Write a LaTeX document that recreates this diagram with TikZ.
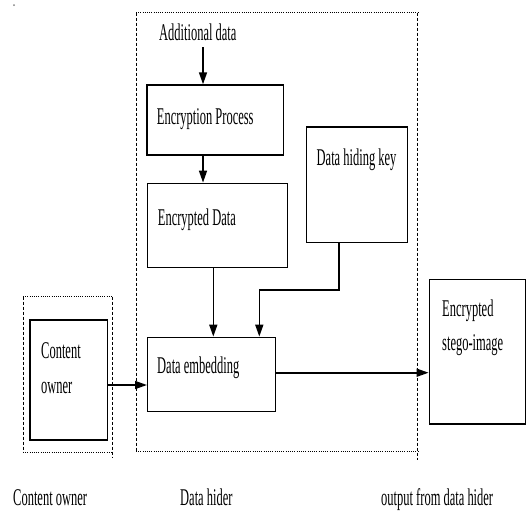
\documentclass[tikz,border=0pt]{standalone}
\usepackage{fontspec}
\setmainfont{Liberation Serif}[FakeStretch=0.52]
\usetikzlibrary{arrows.meta}
\tikzset{
  box/.style={draw, line width=1.4pt, inner sep=0pt, minimum width=#1},
  txt/.style={anchor=base west, inner sep=0pt, font=\fontsize{24}{34}\selectfont},
  arr/.style={line width=1.6pt, -{Triangle[length=12pt,width=8pt]}},
  hdash/.style={line width=1pt, dash pattern=on 1pt off 1.2pt},
  vdash/.style={line width=1pt, dash pattern=on 3pt off 2pt}
}
\begin{document}
\begin{tikzpicture}[x=1pt,y=-1pt]
\useasboundingbox (0,0) rectangle (526,512);
\fill[gray] (14,5) circle (1pt);
% dashed group frames
\draw[hdash] (136,12.7) -- (417.7,12.7);
\draw[hdash] (136,451.7) -- (417.7,451.7);
\draw[vdash] (136,12.7) -- (136,451.7);
\draw[vdash] (417.7,12.7) -- (417.7,460);
\draw[hdash] (23,296.7) -- (112.7,296.7);
\draw[hdash] (23,452.7) -- (112.7,452.7);
\draw[vdash] (23,296.7) -- (23,452.7);
\draw[vdash] (112.7,296.7) -- (112.7,458);
% boxes
\node[box=136.3pt, minimum height=70pt] (enc) at (215.2,120) {};
\node[box=140pt, minimum height=84pt] (encd) at (217.7,225.3) {};
\node[box=100.6pt, minimum height=115.3pt] (key) at (357,184.7) {};
\node[box=127.6pt, minimum height=74.4pt] (emb) at (211.5,374.5) {};
\node[box=77.3pt, minimum height=120pt] (owner) at (68.7,380) {};
\node[box=96pt, minimum height=144.7pt] (stego) at (477.3,351.7) {};
% texts
\node[txt] (addl) at (159,40.7) {Additional data};
\node[txt] (tenc) at (156.7,124) {Encryption Process};
\node[txt] (tencd) at (157.7,225) {Encrypted Data};
\node[txt] (tkey) at (316.5,165) {Data hiding key};
\node[txt] (temb) at (157,373.3) {Data embedding};
\node[txt] (tcont1) at (41,358.3) {Content};
\node[txt] (tcont2) at (41,393.3) {owner};
\node[txt] (tstego1) at (442,316.7) {Encrypted};
\node[txt] (tstego2) at (442,350) {stego-image};
\node[txt] (lcont) at (13,505.5) {Content owner};
\node[txt] (lhider) at (180,505.5) {Data hider};
\node[txt] (lout) at (381,505.5) {output from data hider};
% connectors
\coordinate (a1) at (203,47);
\coordinate (a2) at (213.3,0);
\coordinate (k1) at (338.7,290);
\coordinate (k2) at (259.3,290);
\coordinate (c1) at (0,385);
\coordinate (c2) at (0,372.7);
\draw[arr] (a1) -- (a1 |- enc.north);
\draw[arr] (enc.south -| a1) -- (encd.north -| a1);
\draw[arr] (encd.south -| a2) -- (emb.north -| a2);
\draw[arr] (key.south -| k1) -- (k1) -- (k2) -- (k2 |- emb.north);
\draw[arr] (owner.east |- c1) -- (emb.west |- c1);
\draw[arr] (emb.east |- c2) -- (stego.west |- c2);
\end{tikzpicture}
\end{document}
